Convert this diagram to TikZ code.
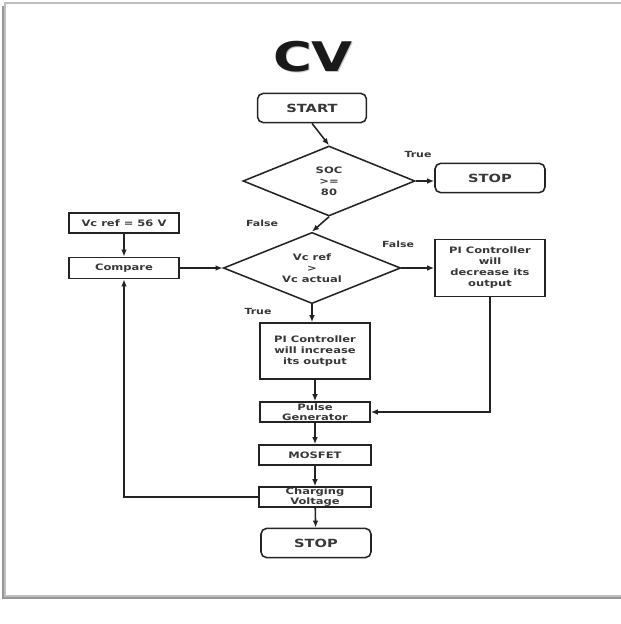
\documentclass[tikz,border=0pt]{standalone}
\usepackage{fontspec}
\setmainfont{DejaVu Sans}[FakeStretch=1.3]
\usetikzlibrary{shapes.geometric, arrows.meta, positioning}
\definecolor{lineDark}{RGB}{35,35,35}
\definecolor{textGray}{RGB}{55,55,55}
\definecolor{frameGray}{RGB}{190,190,190}
\definecolor{shadowGray}{RGB}{150,150,150}

\begin{document}
\begin{tikzpicture}[x=0.025cm, y=-0.025cm,
    box/.style={draw=lineDark, line width=1.1pt, text=textGray, font=\fontsize{6.3}{7.8}\selectfont\bfseries, align=center, minimum width=2.75cm, minimum height=0.5cm, inner sep=0pt},
    term/.style={box, rounded corners=4pt, minimum height=0.73cm, font=\fontsize{8}{9.6}\selectfont\bfseries},
    decision/.style={box, diamond, aspect=2.5},
    lbl/.style={text=textGray, font=\fontsize{6}{7}\selectfont\bfseries, inner sep=0pt},
    flow/.style={draw=lineDark, line width=1.1pt, -{Latex[length=5pt, width=4pt]}}]
    \useasboundingbox (0,0) rectangle (620,624);

    % Frame
    \draw[shadowGray, line width=1.6pt] (3,6) -- (3,598) -- (625,598);
    \draw[frameGray, line width=0.8pt] (625,3) -- (5,3) -- (5,596) -- (625,596);

    % Title
    \node[text=black!22, font=\fontsize{29}{29}\selectfont\bfseries] (cvshade) at (314,58) {CV};
    \node[text=black!90, font=\fontsize{29}{29}\selectfont\bfseries] (cv) at (313,57) {CV};

    % Nodes
    \node[term, minimum width=2.72cm] (start) at (312,108) {START};
    \node[decision, minimum width=4.3cm, minimum height=1.75cm] (soc) at (329,181) {SOC\\>=\\80};
    \node[term] (stopsoc) at (490,178) {STOP};
    \node[box] (vcref) at (124,223) {Vc ref = 56 V};
    \node[box, minimum height=0.53cm] (compare) at (124,268) {Compare};
    \node[decision, minimum width=4.43cm, minimum height=1.78cm] (vccheck) at (312,268) {Vc ref\\>\\Vc actual};
    \node[box, minimum height=1.42cm] (pidec) at (490,268) {PI Controller\\will\\decrease its\\output};
    \node[box, minimum height=1.4cm] (piinc) at (315,351) {PI Controller\\will increase\\its output};
    \node[box, font=\fontsize{6.3}{7.1}\selectfont\bfseries] (pulse) at (315,412) {Pulse\\Generator};
    \node[box, minimum width=2.8cm] (mosfet) at (315,455) {MOSFET};
    \node[box, minimum width=2.8cm, font=\fontsize{6.3}{7.4}\selectfont\bfseries] (charging) at (315,497) {Charging\\Voltage};
    \node[term] (stopend) at (316,543) {STOP};

    % Labels
    \node[lbl] (socTrue) at (418,154) {True};
    \node[lbl] (socFalse) at (262,223) {False};
    \node[lbl] (vcFalse) at (398,244) {False};
    \node[lbl] (vcTrue) at (258,311) {True};

    % Arrows
    \draw[flow] (start.south) -- (soc.north);
    \draw[flow] (soc.east) -- (soc.east -| stopsoc.west);
    \draw[flow] (soc.south) -- (vccheck.north);
    \draw[flow] (vcref) -- (compare);
    \draw[flow] (compare) -- (vccheck.west);
    \draw[flow] (vccheck.east) -- (pidec.west);
    \draw[flow] (vccheck.south) -- (vccheck.south |- piinc.north);
    \draw[flow] (piinc) -- (pulse);
    \draw[flow] (pidec.south) |- (pulse.east);
    \draw[flow] (pulse) -- (mosfet);
    \draw[flow] (mosfet) -- (charging);
    \draw[flow] (charging) -- (stopend);
    \draw[flow] (charging.west) -| (compare.south);
\end{tikzpicture}
\end{document}
